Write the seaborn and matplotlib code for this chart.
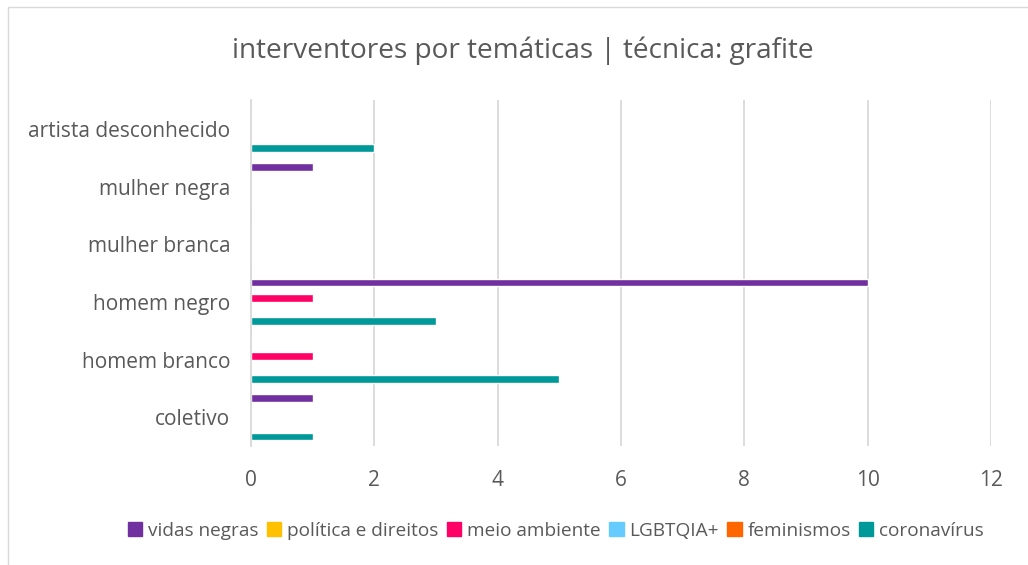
import pandas as pd
import numpy as np
import matplotlib.pyplot as plt
import seaborn as sns

# categories (top to bottom as in the chart)
categorias = ["artista desconhecido", "mulher negra", "mulher branca",
              "homem negro", "homem branco", "coletivo"]
series = ["vidas negras", "política e direitos", "meio ambiente",
          "LGBTQIA+", "feminismos", "coronavírus"]
vidas_negras = [0, 1, 0, 10, 0, 1]
politica = [0, 0, 0, 0, 0, 0]
meio_ambiente = [0, 0, 0, 1, 1, 0]
lgbtqia = [0, 0, 0, 0, 0, 0]
feminismos = [0, 0, 0, 0, 0, 0]
coronavirus = [2, 0, 0, 3, 5, 1]
cores = ["#7030A0", "#FFC000", "#FF0066", "#66CCFF", "#FF6600", "#009999"]

valores = [vidas_negras, politica, meio_ambiente, lgbtqia, feminismos, coronavirus]
rows = []
for s, vals in zip(series, valores):
    for c, v in zip(categorias, vals):
        rows.append({"categoria": c, "tema": s, "n": v})
df = pd.DataFrame(rows)

sns.set_style("white")
plt.rcParams["font.family"] = ["Open Sans", "DejaVu Sans"]
txt = "#595959"

fig = plt.figure(figsize=(10.28, 5.65), dpi=100)
ax = fig.add_axes([251/1028, 1-446/565, 740/1028, 346/565])
sns.barplot(data=df, x="n", y="categoria", hue="tema", order=categorias,
            hue_order=series, palette=cores, orient="h", width=0.8,
            saturation=1, ax=ax, legend=False)

ax.set_xlim(0, 12)
ax.set_xticks(range(0, 13, 2))
ax.xaxis.grid(True, color="#D9D9D9", lw=1.3)
ax.set_axisbelow(True)
for s in ["top", "right", "bottom"]:
    ax.spines[s].set_visible(False)
ax.spines["left"].set_color("#D9D9D9")
ax.spines["left"].set_linewidth(1.3)
ax.tick_params(axis="both", length=0, labelsize=15, colors=txt)
ax.tick_params(axis="x", pad=17)
ax.tick_params(axis="y", pad=15)
ax.set_xlabel("")
ax.set_ylabel("")

fig.text(523/1028, 1-51/565, "interventores por temáticas | técnica: grafite",
         ha="center", va="center", fontsize=20.2, color=txt)

handles = [plt.Rectangle((0, 0), 1, 1, color=c) for c in cores]
fig.legend(handles, series, loc="center", bbox_to_anchor=(556/1028, 1-531/565),
           ncol=6, frameon=False, fontsize=13.7, labelcolor=txt,
           handlelength=0.75, handleheight=0.75, handletextpad=0.3,
           columnspacing=0.45)

# outer chart border
fig.patches.append(plt.Rectangle((8/1028, -0.01), 1.1, 1-7/565+0.01,
                                 transform=fig.transFigure, fill=False,
                                 edgecolor="#D9D9D9", lw=1))
fig.savefig("out.png", dpi=100)
